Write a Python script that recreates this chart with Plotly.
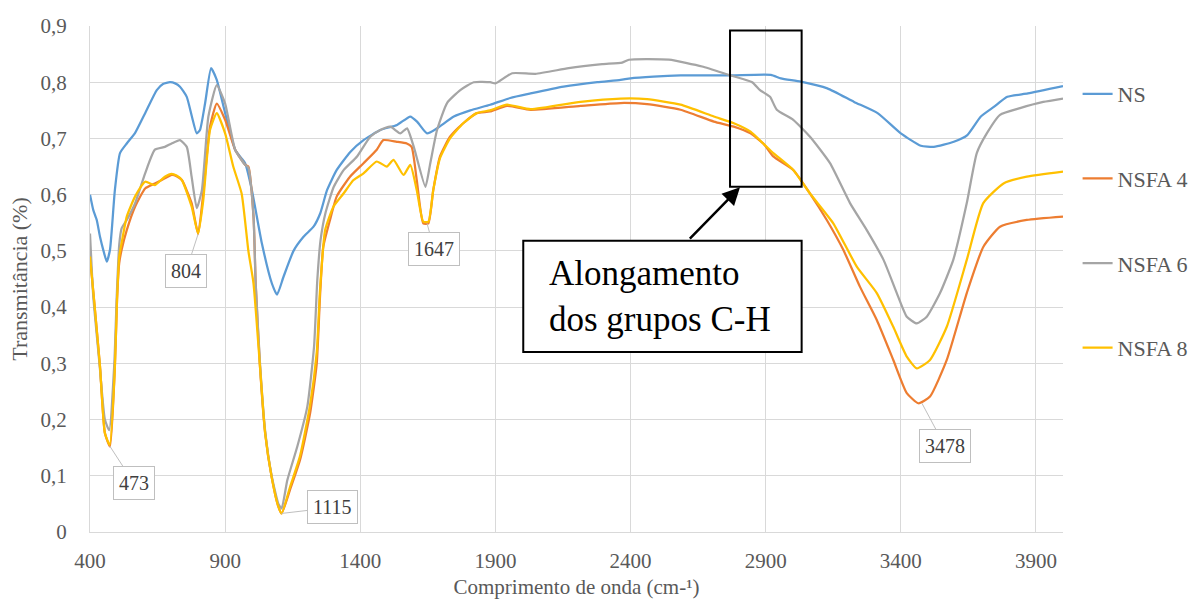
import plotly.graph_objects as go

# ---------------- data ----------------
ns_wn = [400, 412, 425, 437, 450, 462, 474, 492, 511, 536, 567, 604, 647, 670, 696, 715, 733, 758, 777, 795,
         807, 826, 848, 869, 900, 937, 960, 974, 999, 1036, 1073, 1092, 1116, 1153, 1190, 1227, 1252, 1277,
         1313, 1363, 1412, 1474, 1536, 1585, 1610, 1647, 1684, 1746, 1807, 1881, 1955, 2030, 2152, 2277,
         2363, 2400, 2485, 2585, 2770, 2919, 2956, 3030, 3128, 3227, 3314, 3400, 3474, 3522, 3596, 3646,
         3696, 3744, 3794, 3870, 4000]
ns_t = [0.600, 0.573, 0.555, 0.525, 0.500, 0.481, 0.502, 0.608, 0.674, 0.691, 0.710, 0.745, 0.786, 0.797,
        0.800, 0.798, 0.792, 0.774, 0.739, 0.709, 0.715, 0.763, 0.825, 0.804, 0.745, 0.680, 0.665, 0.656,
        0.608, 0.513, 0.442, 0.422, 0.454, 0.500, 0.525, 0.543, 0.567, 0.608, 0.644, 0.676, 0.697, 0.715,
        0.724, 0.739, 0.730, 0.709, 0.718, 0.739, 0.750, 0.760, 0.772, 0.780, 0.792, 0.800, 0.804, 0.807,
        0.810, 0.812, 0.812, 0.813, 0.807, 0.801, 0.789, 0.765, 0.745, 0.709, 0.687, 0.685, 0.694, 0.706,
        0.739, 0.756, 0.774, 0.780, 0.793]

nsfa4_wn = [400, 415, 437, 455, 474, 492, 500, 508, 517, 536, 567, 604, 640, 677, 702, 720, 740, 776, 800,
            819, 844, 869, 900, 937, 974, 986, 1005, 1013, 1029, 1048, 1072, 1097, 1109, 1140, 1177, 1214,
            1239, 1251, 1263, 1288, 1313, 1362, 1412, 1461, 1485, 1535, 1572, 1590, 1609, 1633, 1652, 1670,
            1695, 1732, 1781, 1831, 1880, 1943, 2030, 2215, 2363, 2461, 2585, 2708, 2782, 2844, 2893, 2928,
            3002, 3064, 3126, 3187, 3249, 3311, 3372, 3422, 3465, 3508, 3570, 3644, 3705, 3767, 3866, 4000]
nsfa4_t = [0.490, 0.413, 0.294, 0.176, 0.152, 0.294, 0.413, 0.478, 0.502, 0.537, 0.579, 0.611, 0.620, 0.629,
           0.635, 0.633, 0.626, 0.585, 0.530, 0.602, 0.721, 0.762, 0.733, 0.680, 0.653, 0.650, 0.561, 0.442,
           0.294, 0.176, 0.098, 0.045, 0.033, 0.075, 0.128, 0.210, 0.300, 0.419, 0.507, 0.555, 0.597, 0.632,
           0.656, 0.680, 0.697, 0.694, 0.691, 0.685, 0.626, 0.549, 0.549, 0.608, 0.668, 0.703, 0.727, 0.745,
           0.748, 0.758, 0.751, 0.758, 0.763, 0.761, 0.751, 0.730, 0.721, 0.709, 0.690, 0.668, 0.644, 0.602,
           0.555, 0.502, 0.436, 0.377, 0.306, 0.247, 0.229, 0.241, 0.306, 0.425, 0.507, 0.543, 0.555, 0.561]

nsfa6_wn = [400, 412, 435, 455, 471, 490, 499, 508, 517, 536, 567, 604, 640, 677, 702, 733, 758, 776, 795,
            814, 838, 869, 900, 937, 974, 986, 1005, 1013, 1029, 1048, 1072, 1097, 1109, 1130, 1167, 1204,
            1229, 1241, 1253, 1271, 1302, 1339, 1388, 1437, 1474, 1511, 1548, 1573, 1598, 1641, 1659, 1684,
            1721, 1770, 1820, 1881, 1900, 1962, 2048, 2171, 2295, 2369, 2394, 2542, 2665, 2764, 2850, 2879,
            2916, 2941, 3002, 3064, 3138, 3212, 3274, 3336, 3385, 3422, 3459, 3496, 3545, 3594, 3644, 3681,
            3718, 3767, 3841, 3927, 4000]
nsfa6_t = [0.531, 0.420, 0.300, 0.200, 0.181, 0.300, 0.420, 0.510, 0.540, 0.555, 0.585, 0.638, 0.680, 0.685,
           0.691, 0.697, 0.685, 0.632, 0.576, 0.608, 0.739, 0.795, 0.762, 0.680, 0.653, 0.648, 0.561, 0.442,
           0.300, 0.180, 0.100, 0.050, 0.042, 0.092, 0.152, 0.223, 0.330, 0.448, 0.519, 0.567, 0.614, 0.644,
           0.668, 0.703, 0.715, 0.721, 0.709, 0.718, 0.685, 0.614, 0.656, 0.715, 0.763, 0.786, 0.800, 0.800,
           0.798, 0.816, 0.815, 0.825, 0.832, 0.835, 0.840, 0.840, 0.828, 0.813, 0.800, 0.786, 0.774, 0.751,
           0.733, 0.703, 0.656, 0.585, 0.537, 0.484, 0.425, 0.383, 0.371, 0.383, 0.425, 0.484, 0.585, 0.674,
           0.709, 0.742, 0.754, 0.765, 0.771]

nsfa8_wn = [400, 415, 437, 455, 473, 492, 500, 508, 517, 536, 567, 604, 640, 677, 702, 720, 740, 776, 800,
            819, 844, 869, 900, 930, 961, 986, 1005, 1029, 1048, 1072, 1097, 1109, 1140, 1177, 1214, 1239,
            1251, 1270, 1301, 1338, 1375, 1412, 1461, 1498, 1523, 1560, 1585, 1609, 1633, 1652, 1670, 1695,
            1732, 1781, 1831, 1880, 1943, 2030, 2215, 2363, 2461, 2585, 2708, 2782, 2844, 2893, 2928, 3002,
            3064, 3150, 3237, 3311, 3372, 3422, 3459, 3508, 3570, 3644, 3705, 3780, 3866, 4000]
nsfa8_t = [0.490, 0.413, 0.294, 0.176, 0.155, 0.294, 0.413, 0.490, 0.514, 0.561, 0.597, 0.623, 0.617, 0.632,
           0.637, 0.634, 0.626, 0.579, 0.531, 0.590, 0.715, 0.745, 0.709, 0.650, 0.602, 0.500, 0.442, 0.294,
           0.176, 0.098, 0.045, 0.033, 0.080, 0.135, 0.225, 0.320, 0.430, 0.537, 0.579, 0.602, 0.626, 0.638,
           0.659, 0.650, 0.662, 0.635, 0.653, 0.608, 0.552, 0.552, 0.608, 0.665, 0.700, 0.727, 0.745, 0.750,
           0.760, 0.752, 0.765, 0.771, 0.770, 0.760, 0.739, 0.727, 0.712, 0.690, 0.674, 0.644, 0.602, 0.549,
           0.472, 0.425, 0.365, 0.312, 0.291, 0.306, 0.365, 0.484, 0.585, 0.620, 0.632, 0.641]

series_names = ["NS", "NSFA 4", "NSFA 6", "NSFA 8"]
series_colors = ["#5B9BD5", "#ED7D31", "#A5A5A5", "#FFC000"]

peak_labels = ["473", "804", "1115", "1647", "3478"]
peak_wn = [473, 800, 1109, 1647, 3478]
peak_t = [0.153, 0.530, 0.033, 0.549, 0.229]
peak_offsets = [(24, 37), (-12, 37), (51, -6), (7, 26), (23, 43)]

x_ticks = [400, 900, 1400, 1900, 2400, 2900, 3400, 3900]
y_ticks = [0, 0.1, 0.2, 0.3, 0.4, 0.5, 0.6, 0.7, 0.8, 0.9]
y_tick_labels = ["0", "0,1", "0,2", "0,3", "0,4", "0,5", "0,6", "0,7", "0,8", "0,9"]

FONT = "Liberation Serif"
GRID = "#d9d9d9"
TXT = "#595959"

fig = go.Figure()
all_x = [ns_wn, nsfa4_wn, nsfa6_wn, nsfa8_wn]
all_y = [ns_t, nsfa4_t, nsfa6_t, nsfa8_t]
for i, (name, col) in enumerate(zip(series_names, series_colors)):
    fig.add_trace(go.Scatter(x=all_x[i], y=all_y[i], mode="lines", name=name,
                             legendgroup=name,
                             line=dict(color=col, width=2.25, shape="spline", smoothing=0.5)))

# peak callouts
for lab, px, py, (ox, oy) in zip(peak_labels, peak_wn, peak_t, peak_offsets):
    fig.add_annotation(x=px, y=py, text=lab, showarrow=True, arrowhead=0, arrowwidth=1,
                       arrowcolor="#bfbfbf", ax=ox, ay=oy, bgcolor="white",
                       bordercolor="#bfbfbf", borderwidth=1, borderpad=5,
                       font=dict(family=FONT, size=20, color="#404040"))

# C-H stretch box and highlight
fig.add_shape(type="rect", xref="x", yref="y", x0=2003, x1=3033, y0=0.320, y1=0.518,
              line=dict(color="black", width=2), fillcolor="white", layer="above")
fig.add_shape(type="rect", xref="x", yref="y", x0=2768, x1=3033, y0=0.614, y1=0.892,
              line=dict(color="black", width=2), layer="above")
fig.add_annotation(x=2090, y=0.418, xref="x", yref="y", xanchor="left", yanchor="middle",
                   text="Alongamento<br>dos grupos C-H", showarrow=False, align="left",
                   font=dict(family=FONT, size=35, color="black"))
fig.add_annotation(x=2805, y=0.613, ax=2614, ay=0.519, xref="x", yref="y", axref="x", ayref="y",
                   text="", showarrow=True, arrowhead=2, arrowsize=1.4, arrowwidth=2.5,
                   arrowcolor="black")

fig.update_layout(
    width=1193, height=599,
    margin=dict(l=90, r=130, t=26, b=67, autoexpand=False),
    paper_bgcolor="white", plot_bgcolor="white",
    font=dict(family=FONT, color=TXT),
    showlegend=True,
    legend=dict(x=1.015, y=0.907, xanchor="left", yanchor="top",
                font=dict(family=FONT, size=22, color=TXT),
                tracegroupgap=53, traceorder="grouped", bgcolor="rgba(0,0,0,0)"),
    xaxis=dict(range=[400, 4000], tickvals=x_ticks, showgrid=True, gridcolor=GRID,
               showline=True, linecolor=GRID, zeroline=False, ticks="", automargin=False,
               tickfont=dict(family=FONT, size=21, color=TXT), ticklabelstandoff=10,
               title=dict(text="Comprimento de onda (cm-¹)", standoff=20,
                          font=dict(family=FONT, size=21, color=TXT))),
    yaxis=dict(range=[0, 0.9], tickvals=y_ticks, ticktext=y_tick_labels, showgrid=True,
               gridcolor=GRID, showline=True, linecolor=GRID, zeroline=False, ticks="",
               automargin=False,
               tickfont=dict(family=FONT, size=21, color=TXT), ticklabelstandoff=18,
               title=dict(text="Transmitância (%)", standoff=6,
                          font=dict(family=FONT, size=22, color=TXT))),
)

fig.write_html("out.html")
